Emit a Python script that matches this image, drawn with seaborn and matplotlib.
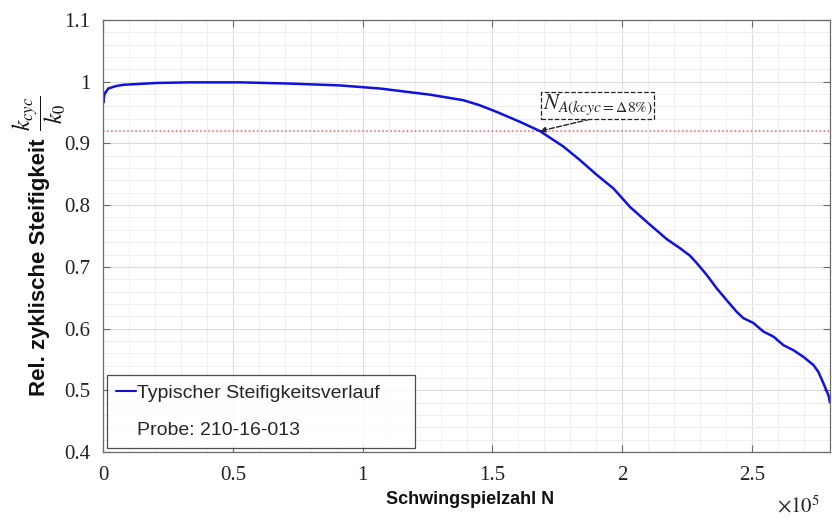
import numpy as np
import pandas as pd
import matplotlib
matplotlib.use("Agg")
import matplotlib.pyplot as plt
from matplotlib.ticker import MultipleLocator, FuncFormatter
from matplotlib.lines import Line2D
import seaborn as sns

# Load cycles N and relative cyclic stiffness k_cyc / k_0
cycles = [0, 100, 600, 2000, 5000, 7800, 20700, 33500, 52800, 72000, 91300,
          106700, 126000, 138800, 145000, 151700, 160600, 168300, 177300,
          183700, 190200, 196600, 203000, 209400, 217100, 222300, 226100,
          228700, 232500, 236400, 240200, 244100, 246600, 250500, 254400,
          258200, 262100, 265900, 269800, 273600, 275500, 277500, 279400,
          280000]
stiffness = [0.985, 0.966, 0.980, 0.989, 0.993, 0.995, 0.998, 0.999, 0.999,
             0.997, 0.994, 0.989, 0.979, 0.970, 0.962, 0.951, 0.935, 0.920,
             0.895, 0.873, 0.849, 0.827, 0.797, 0.773, 0.745, 0.730, 0.718,
             0.706, 0.687, 0.665, 0.646, 0.627, 0.617, 0.609, 0.595, 0.587,
             0.573, 0.565, 0.554, 0.541, 0.530, 0.511, 0.492, 0.480]

threshold = 0.92            # 8 % stiffness drop
n_a_cycles = 168300         # cycle count where the threshold is crossed
n_a_stiffness = 0.92

x_ticks = [0, 50000, 100000, 150000, 200000, 250000]
x_tick_labels = ["0", "0.5", "1", "1.5", "2", "2.5"]
y_ticks = [0.4, 0.5, 0.6, 0.7, 0.8, 0.9, 1.0, 1.1]

legend_line = "Typischer Steifigkeitsverlauf"
legend_probe = "Probe: 210-16-013"

df = pd.DataFrame({"N": cycles, "k": stiffness})

sns.set_theme(style="white")
plt.rcParams["mathtext.fontset"] = "stix"
plt.rcParams["font.family"] = ["Liberation Sans", "DejaVu Sans"]

fig = plt.figure(figsize=(8.32, 5.2), dpi=100)
ax = fig.add_axes([0.1238, 0.1308, 0.8738, 0.8307])

sns.lineplot(data=df, x="N", y="k", ax=ax, color="#1010e0", lw=1.8,
             sort=False, label=legend_line, legend=False)
ax.axhline(threshold, color="#e06a6a", ls=":", lw=1.1, zorder=1)

ax.set_xlim(0, 280000)
ax.set_ylim(0.4, 1.1)
ax.set_xticks(x_ticks)
ax.xaxis.set_major_formatter(FuncFormatter(
    lambda v, p: x_tick_labels[x_ticks.index(int(round(v)))]
    if int(round(v)) in x_ticks else ""))
ax.set_yticks(y_ticks)
ax.yaxis.set_major_formatter(FuncFormatter(lambda v, p: f"{v:g}"))
ax.xaxis.set_minor_locator(MultipleLocator(10000))
ax.yaxis.set_minor_locator(MultipleLocator(0.02))

ax.grid(which="major", color="#dcdcdc", lw=0.8)
ax.grid(which="minor", color="#eeeeee", lw=0.7)
ax.set_axisbelow(True)

for s in ax.spines.values():
    s.set_visible(True)
    s.set_color("#6a6a6a")
    s.set_linewidth(0.9)

ax.tick_params(which="major", direction="in", length=5, width=0.8,
               color="#6a6a6a", top=True, right=True, left=True, bottom=True)
ax.tick_params(which="minor", length=0)
ax.tick_params(axis="x", pad=10)
ax.tick_params(axis="y", pad=9)
for lab in ax.get_xticklabels() + ax.get_yticklabels():
    lab.set_fontfamily("Liberation Serif")
    lab.set_fontsize(15)
    lab.set_color("#222222")

ax.set_xlabel("Schwingspielzahl N", fontsize=13, fontweight="bold",
              color="#111111")
ax.xaxis.set_label_coords(0.505, -0.09)
ax.set_ylabel("Rel. zyklische Steifigkeit", fontsize=16, fontweight="bold",
              color="#111111", va="center")
ax.yaxis.set_label_coords(-0.088, 0.427)
# stiffness ratio shown as a fraction at the top of the y label
fig.text(0.047, 0.783, r"$\dfrac{k_{cyc}}{k_0}$", rotation=90,
         ha="center", va="center", fontsize=17, color="#111111")

fig.text(0.985, 0.005, r"$\times 10^5$", ha="right", va="bottom",
         fontsize=15, family="Liberation Serif", color="#222222")

# Annotation of the threshold crossing
ax.annotate(r"$N_{A(kcyc=\Delta 8\%)}$",
            xy=(n_a_cycles, n_a_stiffness), xytext=(190500, 0.962),
            textcoords="data", ha="center", va="center", fontsize=16,
            bbox=dict(boxstyle="square,pad=0.06", fc="white", ec="#222222",
                      ls="--", lw=0.9),
            arrowprops=dict(arrowstyle="-|>", ls="--", color="#222222",
                            lw=1.0, relpos=(0.5, 0.0), shrinkA=0, shrinkB=0,
                            mutation_scale=8))

handles = [Line2D([], [], color="#1010e0", lw=1.5),
           Line2D([], [], color="none")]
leg = ax.legend(handles, [legend_line, legend_probe],
                loc="lower left", bbox_to_anchor=(0.0055, 0.009, 0.424, 0.174),
                mode="expand", borderaxespad=0, fontsize=14,
                handlelength=1.0, handletextpad=0.05, labelspacing=1.0,
                borderpad=0.48, frameon=True, fancybox=False)
leg.get_frame().set_edgecolor("#222222")
leg.get_frame().set_linewidth(0.9)

fig.savefig("out.png", dpi=100, facecolor="white")
